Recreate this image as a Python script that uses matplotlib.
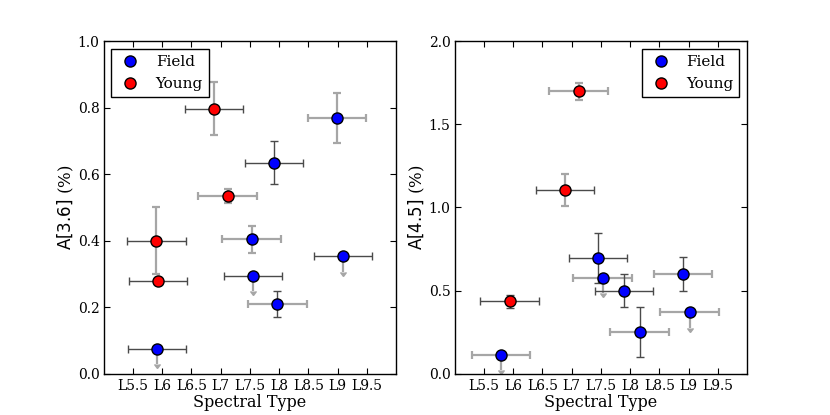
import matplotlib
matplotlib.use("Agg")
import matplotlib.pyplot as plt

plt.rcParams['font.family'] = ['DejaVu Serif']
plt.rcParams['mathtext.fontset'] = 'dejavusans'

# ---- data ----
tick_vals = [5.5, 6, 6.5, 7, 7.5, 8, 8.5, 9, 9.5]
tick_labels = ["L5.5", "L6", "L6.5", "L7", "L7.5", "L8", "L8.5", "L9", "L9.5"]

# Left panel: A[3.6]
f36_x = [5.91, 7.53, 7.55, 7.97, 7.91, 8.99, 9.09]
f36_y = [0.075, 0.404, 0.295, 0.21, 0.635, 0.77, 0.355]
f36_xerr = [0.5, 0.5, 0.5, 0.5, 0.5, 0.5, 0.5]
f36_yerr = [0.045, 0.04, 0.045, 0.04, 0.065, 0.075, 0.05]
f36_lim = [True, False, True, False, False, False, True]

y36_x = [6.885, 7.12, 5.9, 5.93]
y36_y = [0.797, 0.535, 0.40, 0.28]
y36_xerr = [0.5, 0.5, 0.5, 0.5]
y36_yerr = [0.08, 0.02, 0.10, 0.0]
y36_lim = [False, False, False, False]

# Right panel: A[4.5]
f45_x = [5.79, 7.45, 7.53, 7.90, 8.165, 8.91, 9.02]
f45_y = [0.11, 0.698, 0.574, 0.50, 0.25, 0.60, 0.37]
f45_xerr = [0.5, 0.5, 0.5, 0.5, 0.5, 0.5, 0.5]
f45_yerr = [0.09, 0.15, 0.09, 0.10, 0.15, 0.10, 0.095]
f45_lim = [True, False, True, False, False, False, True]

y45_x = [5.94, 6.89, 7.12]
y45_y = [0.435, 1.107, 1.699]
y45_xerr = [0.5, 0.5, 0.5]
y45_yerr = [0.04, 0.095, 0.05]
y45_lim = [False, False, False]

# ---- style (error bar shade per point: 'd' dark, 'l' light) ----
f36_xs = ['d', 'l', 'd', 'l', 'd', 'l', 'd']
f36_ys = ['l', 'l', 'l', 'd', 'd', 'l', 'l']
y36_xs = ['d', 'l', 'd', 'd']
y36_ys = ['l', 'l', 'l', 'l']
f45_xs = ['l', 'd', 'l', 'd', 'l', 'l', 'l']
f45_ys = ['l', 'd', 'l', 'd', 'd', 'd', 'l']
y45_xs = ['d', 'd', 'l']
y45_ys = ['d', 'l', 'l']

SHADE = {'d': dict(color='#4a4a4a', lw=1.0), 'l': dict(color='#a6a6a6', lw=1.6)}


def draw_group(ax, xs, ys, xerr, yerr, lim, xsh, ysh, color, label):
    for i in range(len(xs)):
        s = SHADE[xsh[i]]
        ax.errorbar([xs[i]], [ys[i]], xerr=[xerr[i]], fmt='none',
                    ecolor=s['color'], elinewidth=s['lw'], capsize=3,
                    capthick=s['lw'], zorder=2)
        if yerr[i] > 0:
            s = SHADE[ysh[i]]
            if lim[i]:
                eb = ax.errorbar([xs[i]], [ys[i]], yerr=[yerr[i]], uplims=[True],
                                 fmt='none', ecolor=s['color'], color=s['color'],
                                 elinewidth=s['lw'], capsize=2, zorder=2)
                for c in eb[1]:
                    c.set_color(s['color'])
                    c.set_markeredgecolor(s['color'])
                    c.set_markerfacecolor(s['color'])
            else:
                ax.errorbar([xs[i]], [ys[i]], yerr=[yerr[i]], fmt='none',
                            ecolor=s['color'], elinewidth=s['lw'], capsize=3,
                            capthick=s['lw'], zorder=2)
    ax.plot(xs, ys, 'o', color=color, mec='black', mew=1.0, ms=8,
            linestyle='none', zorder=3, label=label)


fig = plt.figure(figsize=(8.3, 4.15), dpi=100)
fig.subplots_adjust(left=0.125, right=0.9, bottom=0.1, top=0.9, wspace=0.2)
ax1 = fig.add_subplot(1, 2, 1)
ax2 = fig.add_subplot(1, 2, 2)

draw_group(ax1, f36_x, f36_y, f36_xerr, f36_yerr, f36_lim, f36_xs, f36_ys, 'blue', 'Field')
draw_group(ax1, y36_x, y36_y, y36_xerr, y36_yerr, y36_lim, y36_xs, y36_ys, 'red', 'Young')
draw_group(ax2, f45_x, f45_y, f45_xerr, f45_yerr, f45_lim, f45_xs, f45_ys, 'blue', 'Field')
draw_group(ax2, y45_x, y45_y, y45_xerr, y45_yerr, y45_lim, y45_xs, y45_ys, 'red', 'Young')

ax1.set_ylim(0, 1.0)
ax1.set_yticks([0.0, 0.2, 0.4, 0.6, 0.8, 1.0])
ax1.set_ylabel(r'$\mathrm{A[3.6]}$ (%)', fontsize=12, labelpad=1)
ax2.set_ylim(0, 2.0)
ax2.set_yticks([0.0, 0.5, 1.0, 1.5, 2.0])
ax2.set_ylabel(r'$\mathrm{A[4.5]}$ (%)', fontsize=12, labelpad=1)

for ax, loc in ((ax1, 'upper left'), (ax2, 'upper right')):
    ax.set_xlim(5, 10)
    ax.set_xticks(tick_vals)
    ax.set_xticklabels(tick_labels)
    ax.set_xlabel('Spectral Type', fontsize=11.5, labelpad=1)
    ax.tick_params(direction='in', top=True, right=True, length=4, width=0.8,
                   labelsize=10, pad=4)
    ax.tick_params(axis='y', pad=3)
    for sp in ax.spines.values():
        sp.set_linewidth(1.0)
    leg = ax.legend(loc=loc, numpoints=1, fancybox=False, framealpha=1,
                    edgecolor='black', fontsize=11, handlelength=1.7,
                    handletextpad=0.8, borderaxespad=0.5)
    leg.get_frame().set_linewidth(1.0)

fig.savefig('out.png', dpi=100)
